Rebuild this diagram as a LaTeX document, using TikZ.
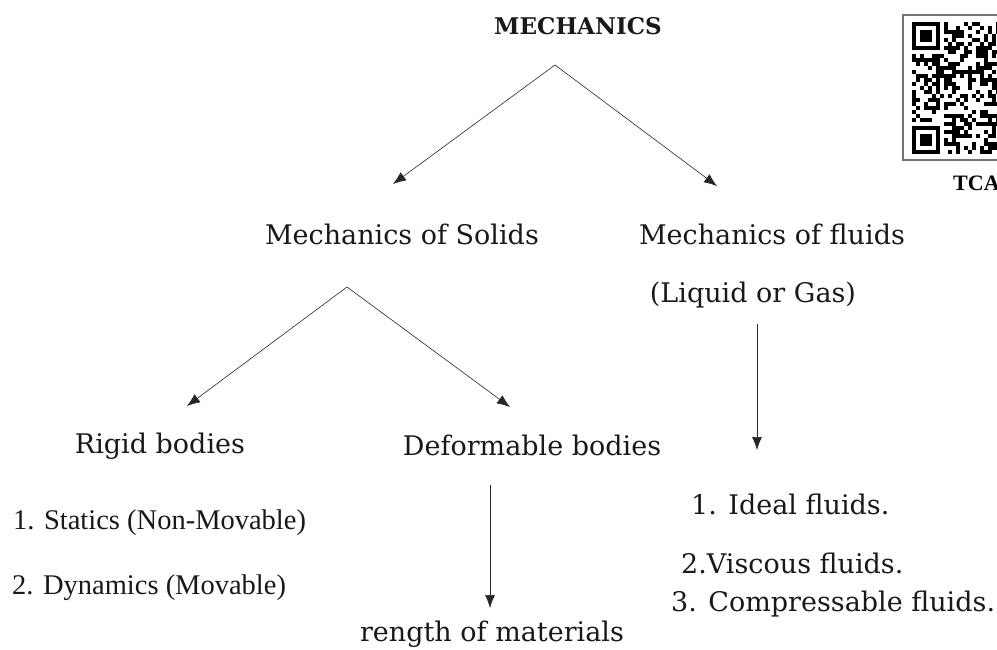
\documentclass[tikz,border=0pt]{standalone}
\usepackage{fontspec}
\usepackage{tikz}
\usetikzlibrary{arrows.meta,positioning}
\newfontfamily\cambr{DejaVu Serif}
\newfontfamily\tnr{Liberation Serif}
\tikzset{lbl/.style={inner sep=0pt,text=black!90,font=\cambr\fontsize{27}{30}\selectfont}}
\tikzset{lst/.style={inner sep=0pt,anchor=west,text=black!90,font=\tnr\fontsize{28.5}{32}\selectfont}}
\tikzset{arr/.style={-{Latex[length=13pt,width=10pt]},line width=0.6pt,draw=black!85}}

\begin{document}
\begin{tikzpicture}[x=1pt,y=-1pt]
  \useasboundingbox (0,0) rectangle (997,650);
  % tree of labels
  \node[lbl,font=\cambr\bfseries\fontsize{23}{26}\selectfont] (mech) at (578,26) {MECHANICS};
  \node[lbl] (solids) at (402,234) {Mechanics of Solids};
  \node[lbl] (fluids) at (772,234) {Mechanics of fluids};
  \node[lbl] (gas) at (753,295) {(Liquid or Gas)};
  \node[lbl] (rigid) at (160,446) {Rigid bodies};
  \node[lbl] (deform) at (532,445) {Deformable bodies};
  \node[lbl] (strength) at (492,634) {rength of materials};
  \node[lst] (statics) at (13,523) {1. Statics (Non-Movable)};
  \node[lst] (dynamics) at (12,588) {2. Dynamics (Movable)};
  \node[lbl,anchor=west] (ideal) at (691,504) {1. Ideal fluids.};
  \node[lbl,anchor=west] (viscous) at (681,563) {2.Viscous fluids.};
  \node[lbl,anchor=west] (compress) at (671,604) {3. Compressable fluids.};

  % arrow ends
  \coordinate (topA) at (555,65);
  \coordinate (tipSolids) at (393,184);
  \coordinate (tipFluids) at (717,186);
  \coordinate (topB) at (347,287);
  \coordinate (tipRigid) at (187,406);
  \coordinate (tipDeform) at (510,407);
  \coordinate (gasEnd) at (757,324);
  \coordinate (tipTypes) at (757,450);
  \coordinate (deformEnd) at (490,485);
  \coordinate (tipStrength) at (490,608);

  \draw[arr] (topA) -- (tipSolids);
  \draw[arr] (topA) -- (tipFluids);
  \draw[arr] (topB) -- (tipRigid);
  \draw[arr] (topB) -- (tipDeform);
  \draw[arr] (gasEnd) -- (tipTypes);
  \draw[arr] (deformEnd) -- (tipStrength);

  % qr code in the corner
  \begin{scope}
    \clip (880,0) rectangle (997,200);
    \draw[black!55,line width=1.2pt] (903,15) rectangle (1030,160);
    \pgfmathsetseed{17}
    \foreach \i in {0,...,21}{
      \foreach \j in {0,...,32}{
        \pgfmathrandominteger{\bit}{0}{1}
        \ifnum\i<8 \ifnum\j<8 \def\bit{0}\fi \ifnum\j>24 \def\bit{0}\fi \fi
        \ifnum\bit=1 \fill (912+4*\i,22+4*\j) rectangle ++(4,4);\fi
      }
    }
    \foreach \fy in {22,126}{
      \fill (912,\fy) rectangle ++(28,28);
      \fill[white] (916,\fy+4) rectangle ++(20,20);
      \fill (920,\fy+8) rectangle ++(12,12);
    }
    \node[inner sep=0pt,anchor=west,font=\tnr\bfseries\fontsize{22}{24}\selectfont] (tca) at (953,183) {TCA};
  \end{scope}
\end{tikzpicture}
\end{document}
